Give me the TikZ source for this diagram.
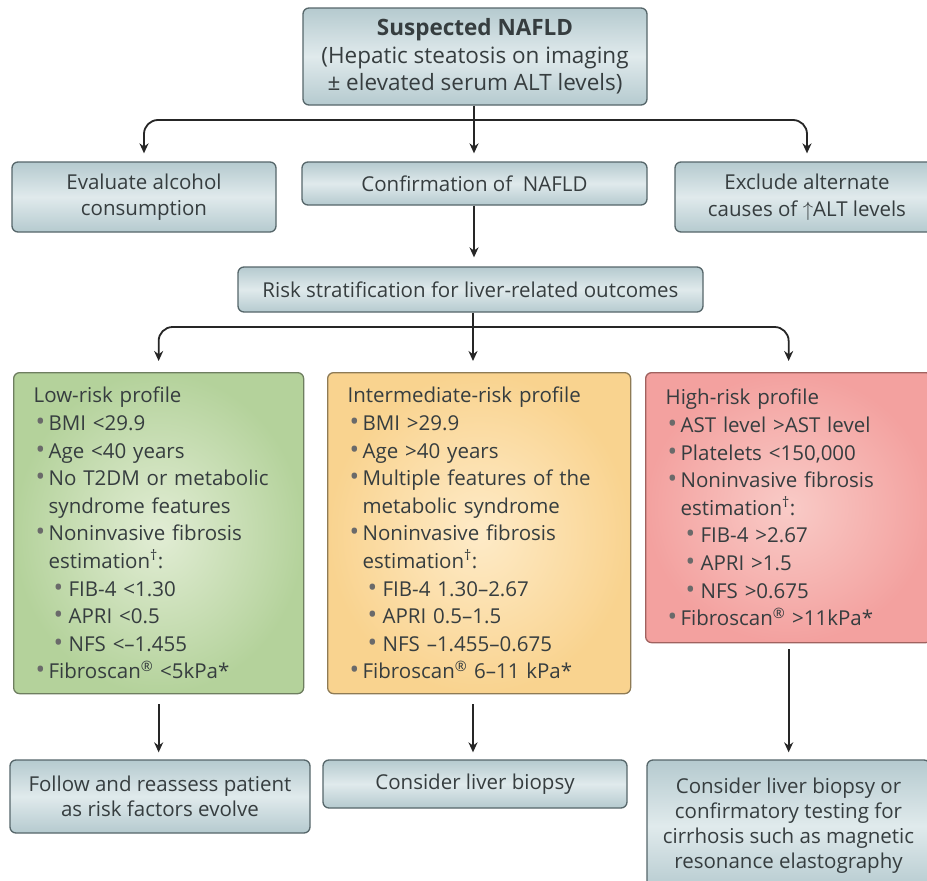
\documentclass[tikz,border=0pt]{standalone}
\usepackage{fontspec}
\usepackage{graphicx}
\setmainfont{Open Sans}
\usetikzlibrary{arrows.meta}
\definecolor{txt}{HTML}{363D3F}
\definecolor{linec}{HTML}{262626}
\definecolor{bordb}{HTML}{56666A}
\definecolor{blueA}{HTML}{B5CACF}
\definecolor{blueB}{HTML}{E0EAEC}
\definecolor{greenA}{HTML}{B4D29B}
\definecolor{greenB}{HTML}{E2EDD5}
\definecolor{bordg}{HTML}{6E7E60}
\definecolor{orA}{HTML}{F9D38F}
\definecolor{orB}{HTML}{FEEBC8}
\definecolor{bordo}{HTML}{8E7B55}
\definecolor{pkA}{HTML}{F3A19F}
\definecolor{pkB}{HTML}{F9CBC7}
\definecolor{bordp}{HTML}{A0625F}
\definecolor{bulc}{HTML}{6A6A6A}
\newcommand{\bglyph}{\textcolor{bulc}{\scalebox{1.25}{\textbullet}}}
\newcommand{\bpt}{\hspace*{2pt}\makebox[13pt][l]{\bglyph}}
\newcommand{\bcont}{\hspace*{15pt}}
\newcommand{\bsub}{\hspace*{20pt}\makebox[15pt][l]{\bglyph}}
\newcommand{\regs}{\textsuperscript{\textregistered}}
\begin{document}
\begin{tikzpicture}[x=1pt,y=-1pt,
  bluebox/.style={draw=bordb, line width=1.3pt, rounded corners=6pt,
    top color=blueA, bottom color=blueA, middle color=blueB,
    text=txt, align=center, inner sep=0pt,
    font=\fontsize{20.5}{26.5}\selectfont},
  riskbox/.style={line width=1.3pt, rounded corners=6pt, align=left,
    inner xsep=20pt, inner ysep=0pt, text=txt, anchor=north west,
    font=\fontsize{20.5}{27.6}\selectfont},
  lowbox/.style={riskbox, draw=bordg, inner color=greenB, outer color=greenA},
  midbox/.style={riskbox, draw=bordo, inner color=orB, outer color=orA},
  highbox/.style={riskbox, draw=bordp, inner color=pkB, outer color=pkA},
  conn/.style={draw=linec, line width=1.8pt},
  arr/.style={conn, -{Stealth[length=10pt,width=9pt]}}
]
\useasboundingbox (0,0) rectangle (927,881);
\fill[white] (0,0) rectangle (927,881);

% top row
\node[bluebox, minimum width=344pt, minimum height=97pt, font=\fontsize{22.5}{27.5}\selectfont] (top) at (475,56.5)
  {\textbf{Suspected NAFLD}\\(Hepatic steatosis on imaging\\± elevated serum ALT levels)};

\node[bluebox, minimum width=264pt, minimum height=70pt] (eval) at (144,197)
  {Evaluate alcohol\\consumption};
\node[bluebox, minimum width=345pt, minimum height=43pt] (conf) at (474.5,183.5)
  {Confirmation of\ \ NAFLD};
\node[bluebox, minimum width=264pt, minimum height=70pt] (excl) at (807,197)
  {Exclude alternate\\causes of $\uparrow$ALT levels};

\node[bluebox, minimum width=465pt, minimum height=45pt] (risk) at (470.5,289.5)
  {Risk stratification for liver-related outcomes};

% risk profiles
\node[lowbox, text width=250pt, minimum height=321pt] (low) at (13,372)
  {Low-risk profile\\
   \bpt BMI <29.9\\
   \bpt Age <40 years\\
   \bpt No T2DM or metabolic\\
   \bcont syndrome features\\
   \bpt Noninvasive fibrosis\\
   \bcont estimation\textsuperscript{\dag}:\\
   \bsub FIB-4 <1.30\\
   \bsub APRI <0.5\\
   \bsub NFS <–1.455\\
   \bpt Fibroscan\regs{} <5kPa*};

\node[midbox, text width=263pt, minimum height=321pt] (mid) at (327,372)
  {Intermediate-risk profile\\
   \bpt BMI >29.9\\
   \bpt Age >40 years\\
   \bpt Multiple features of the\\
   \bcont metabolic syndrome\\
   \bpt Noninvasive fibrosis\\
   \bcont estimation\textsuperscript{\dag}:\\
   \bsub FIB-4 1.30–2.67\\
   \bsub APRI 0.5–1.5\\
   \bsub NFS –1.455–0.675\\
   \bpt Fibroscan\regs{} 6–11 kPa*};

\node[highbox, text width=246pt, minimum height=270pt] (high) at (645,372)
  {High-risk profile\\
   \bpt AST level >AST level\\
   \bpt Platelets <150,000\\
   \bpt Noninvasive fibrosis\\
   \bcont estimation\textsuperscript{\dag}:\\
   \bsub FIB-4 >2.67\\
   \bsub APRI >1.5\\
   \bsub NFS >0.675\\
   \bpt Fibroscan\regs{} >11kPa*};

% bottom row
\node[bluebox, minimum width=300pt, minimum height=73pt, font=\fontsize{20.5}{25}\selectfont] (follow) at (160,796.5)
  {Follow and reassess patient\\as risk factors evolve};
\node[bluebox, minimum width=304pt, minimum height=48pt] (cons) at (475,784)
  {Consider liver biopsy};
\node[bluebox, minimum width=283pt, minimum height=132pt, font=\fontsize{20.5}{25}\selectfont] (conf2) at (788.5,826)
  {Consider liver biopsy or\\confirmatory testing for\\cirrhosis such as magnetic\\resonance elastography};

% connectors
\coordinate (j1) at (474,120);
\coordinate (j2) at (473,327);
\draw[arr, shorten >=8pt] (top.south -| j1) -- (conf.north -| j1);
\draw[arr, rounded corners=14pt, shorten >=8pt] (j1) -| (eval.north);
\draw[arr, rounded corners=14pt, shorten >=8pt] (j1) -| (excl.north);
\draw[arr, shorten >=9pt] (conf.south -| j1) -- (risk.north -| j1);
\draw[arr, shorten >=11pt] (risk.south -| j2) -- (mid.north -| j2);
\draw[arr, rounded corners=14pt, shorten >=11pt] (j2) -| (low.north);
\draw[arr, rounded corners=14pt, shorten >=11pt] (j2) -| (high.north);
\draw[arr, shorten <=10pt, shorten >=7pt] (low.south) -- (low.south |- follow.north);
\draw[arr, shorten <=10pt, shorten >=7pt] (mid.south -| j2) -- (cons.north -| j2);
\draw[arr, shorten <=6pt, shorten >=7pt] (high.south) -- (high.south |- conf2.north);
\end{tikzpicture}
\end{document}
